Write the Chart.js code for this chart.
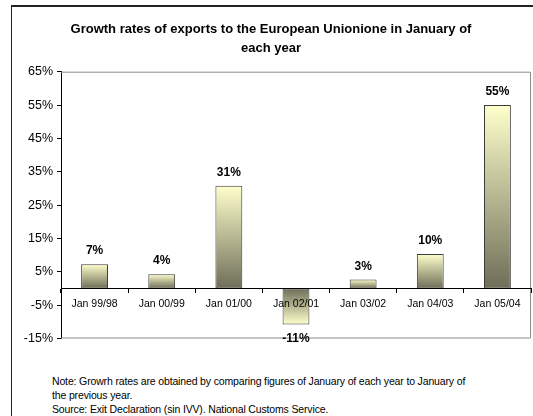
<!DOCTYPE html>
<html>
<head>
<meta charset="utf-8">
<script src="https://cdn.jsdelivr.net/npm/chart.js@4/dist/chart.umd.min.js"></script>
<style>
  html, body { margin: 0; padding: 0; background: #fff; }
  body { width: 533px; height: 416px; position: relative; overflow: hidden; font-family: "Liberation Sans", Arial, sans-serif; }
  #frame { position: absolute; left: 11px; top: 5px; width: 540px; height: 430px; border-top: 2px solid #222; border-left: 1px solid #222; }
  #wrap { position: absolute; left: 11px; top: 5px; width: 522px; height: 345px; }
  #notes { position: absolute; left: 52px; top: 374px; font-size: 10.5px; line-height: 14px; color: #000; letter-spacing: -0.15px; }
</style>
</head>
<body>
<div id="frame"></div>
<div id="wrap"><canvas id="chartGrowth" width="522" height="345"></canvas></div>
<div id="notes">
  Note: Growrh rates are obtained by comparing figures of January of each year to January of<br>
  the previous year.<br>
  Source: Exit Declaration (sin IVV). National Customs Service.
</div>
<script>
// data
const categories = ['Jan 99/98', 'Jan 00/99', 'Jan 01/00', 'Jan 02/01', 'Jan 03/02', 'Jan 04/03', 'Jan 05/04'];
const growthValues = [7.3, 4.3, 30.8, -10.8, 2.7, 10.3, 55.0];
const growthLabels = ['7%', '4%', '31%', '-11%', '3%', '10%', '55%'];
const yTicks = [-15, -5, 5, 15, 25, 35, 45, 55, 65];

// gradient per batang: terang di ujung, gelap di pangkal
function barFill(context) {
    const chart = context.chart;
    const y = chart.scales.y;
    if (!chart.chartArea || !y) return '#cccc99';
    const v = context.raw;
    const tip = y.getPixelForValue(v);
    const base = y.getPixelForValue(0);
    if (!isFinite(tip) || tip === base) return '#cccc99';
    const g = chart.ctx.createLinearGradient(0, tip, 0, base);
    g.addColorStop(0, '#ffffcc');
    g.addColorStop(1, '#6e6e58');
    return g;
}

// bingkai area plot + label nilai
const plotFrame = {
    id: 'plotFrame',
    afterDatasetsDraw(chart) {
        const { ctx, chartArea: a } = chart;
        ctx.save();
        ctx.strokeStyle = '#8c8c8c';
        ctx.lineWidth = 1;
        ctx.beginPath();
        ctx.moveTo(a.left, a.top + 0.5);
        ctx.lineTo(a.right - 0.5, a.top + 0.5);
        ctx.lineTo(a.right - 0.5, a.bottom - 0.5);
        ctx.lineTo(a.left, a.bottom - 0.5);
        ctx.stroke();
        ctx.restore();
    },
    afterDraw(chart) {
        const ctx = chart.ctx;
        ctx.save();
        ctx.font = 'bold 12px "Liberation Sans", Arial, sans-serif';
        ctx.fillStyle = '#000';
        ctx.textAlign = 'center';
        ctx.textBaseline = 'middle';
        chart.getDatasetMeta(0).data.forEach((bar, i) => {
            const v = growthValues[i];
            const y = v >= 0 ? bar.y - 13 : bar.y + 14;
            ctx.fillText(growthLabels[i], bar.x, y);
        });
        ctx.restore();
    }
};

new Chart(document.getElementById('chartGrowth'), {
    type: 'bar',
    data: {
        labels: categories,
        datasets: [{
            label: 'Growth',
            data: growthValues,
            backgroundColor: barFill,
            borderColor: '#3c3c3c',
            borderWidth: 1,
            borderSkipped: false,
            barPercentage: 0.4,
            categoryPercentage: 1
        }]
    },
    options: {
        responsive: false,
        animation: false,
        maintainAspectRatio: false,
        layout: { padding: { left: 0, right: 2, top: 0, bottom: 10 } },
        plugins: {
            legend: { display: false },
            tooltip: { enabled: false },
            title: {
                display: true,
                text: ['Growth rates of exports to the European Unionione in January of', 'each year'],
                color: '#000',
                font: { family: '"Liberation Sans", Arial, sans-serif', size: 13, weight: 'bold', lineHeight: 1.45 },
                padding: { top: 15, bottom: 14 }
            }
        },
        scales: {
            x: {
                position: { y: 0 },
                grid: { display: true, drawOnChartArea: false, offset: true, tickLength: 4, color: '#000', z: 1 },
                border: { display: true, color: '#000', width: 1, z: 1 },
                ticks: { color: '#000', padding: 5, z: 1, font: { family: '"Liberation Sans", Arial, sans-serif', size: 10.5 }, maxRotation: 0 }
            },
            y: {
                min: -15,
                max: 65,
                afterBuildTicks: scale => { scale.ticks = yTicks.map(v => ({ value: v })); },
                afterFit: scale => { scale.width = 50; },
                grid: { display: true, drawOnChartArea: false, tickLength: 4, color: '#000' },
                border: { display: true, color: '#000', width: 1 },
                ticks: {
                    color: '#000',
                    padding: 4,
                    font: { family: '"Liberation Sans", Arial, sans-serif', size: 12.5 },
                    callback: v => v + '%'
                }
            }
        }
    },
    plugins: [plotFrame]
});
</script>
</body>
</html>
